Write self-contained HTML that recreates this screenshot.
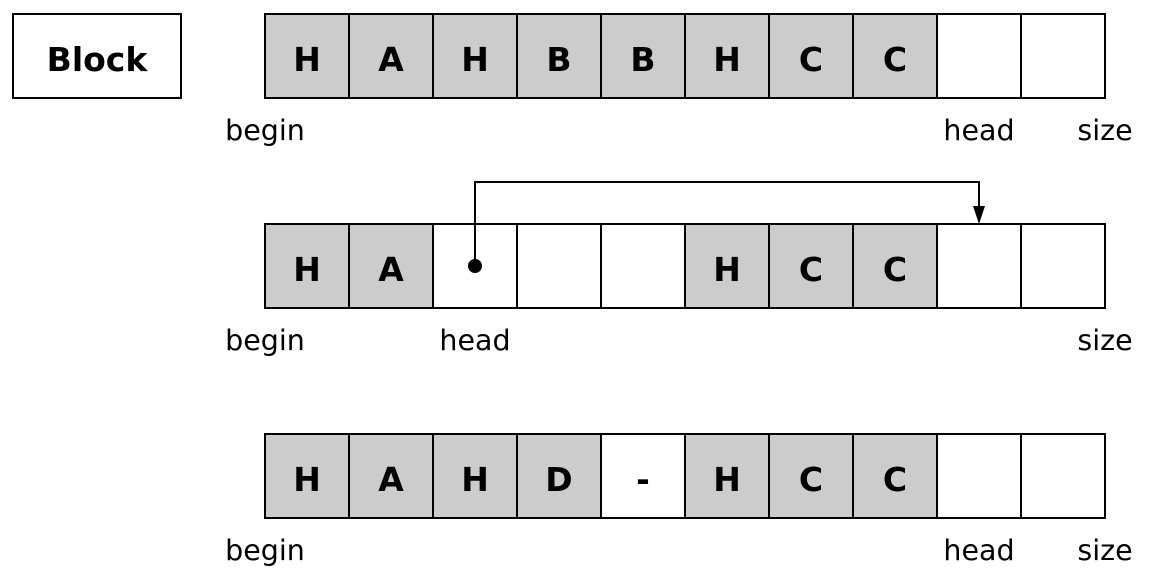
<!DOCTYPE html>
<html><head><meta charset="utf-8"><style>
html,body{margin:0;padding:0;background:#fff}
svg{display:block}
text{font-family:"DejaVu Sans","Liberation Sans",sans-serif}
</style></head><body>
<svg id="s" width="1157" height="582" viewBox="0 0 1157 582">
<rect x="13" y="14" width="168" height="84" fill="#fff" stroke="#000" stroke-width="2"/>
<text x="97" y="71" font-size="33" font-weight="bold" text-anchor="middle">Block</text>
<polyline points="475,266 475,182 979,182 979,208" fill="none" stroke="#000" stroke-width="2"/>
<polygon points="973,206 985,206 979,224" fill="#000"/>
<circle cx="475" cy="266" r="7" fill="#000"/>
</svg>
<script>
const rows = [
  ["H","A","H","B","B","H","C","C","",""],
  ["H","A","","","","H","C","C","",""],
  ["H","A","H","D","-","H","C","C","",""]
];
const filled = [
  [1,1,1,1,1,1,1,1,0,0],
  [1,1,0,0,0,1,1,1,0,0],
  [1,1,1,1,0,1,1,1,0,0]
];
const headIndex = [8,2,8];
const svg = document.getElementById('s');
const NS = 'http://www.w3.org/2000/svg';
const x0 = 265, cw = 84, rowY = [14,224,434];
const arrow = svg.querySelector('polyline');
rows.forEach((row, r) => {
  const g = document.createElementNS(NS,'g');
  
  
  row.forEach((c, i) => {
    const rect = document.createElementNS(NS,'rect');
    rect.setAttribute('x', x0 + i*cw); rect.setAttribute('y', rowY[r]);
    rect.setAttribute('width', cw); rect.setAttribute('height', 84);
    rect.setAttribute('fill', filled[r][i] ? '#cccccc' : '#ffffff');
    rect.setAttribute('stroke', '#000'); rect.setAttribute('stroke-width', 2);
    
    
    g.appendChild(rect);
    if (c) {
      const t = document.createElementNS(NS,'text');
      t.setAttribute('x', x0 + i*cw + cw/2); t.setAttribute('y', rowY[r] + 57);
      t.setAttribute('font-size', 33); t.setAttribute('font-weight', 'bold');
      t.setAttribute('text-anchor', 'middle');
      
      
      t.textContent = c;
      g.appendChild(t);
    }
  });
  const labels = [['begin', x0], ['head', x0 + headIndex[r]*cw + cw/2], ['size', x0 + 10*cw]];
  labels.forEach(([txt, x]) => {
    const t = document.createElementNS(NS,'text');
    t.setAttribute('x', x); t.setAttribute('y', rowY[r] + 126);
    t.setAttribute('font-size', 28.5); t.setAttribute('text-anchor', 'middle');
    
    
    t.textContent = txt;
    g.appendChild(t);
  });
  svg.insertBefore(g, arrow);
});
</script>
</body></html>
